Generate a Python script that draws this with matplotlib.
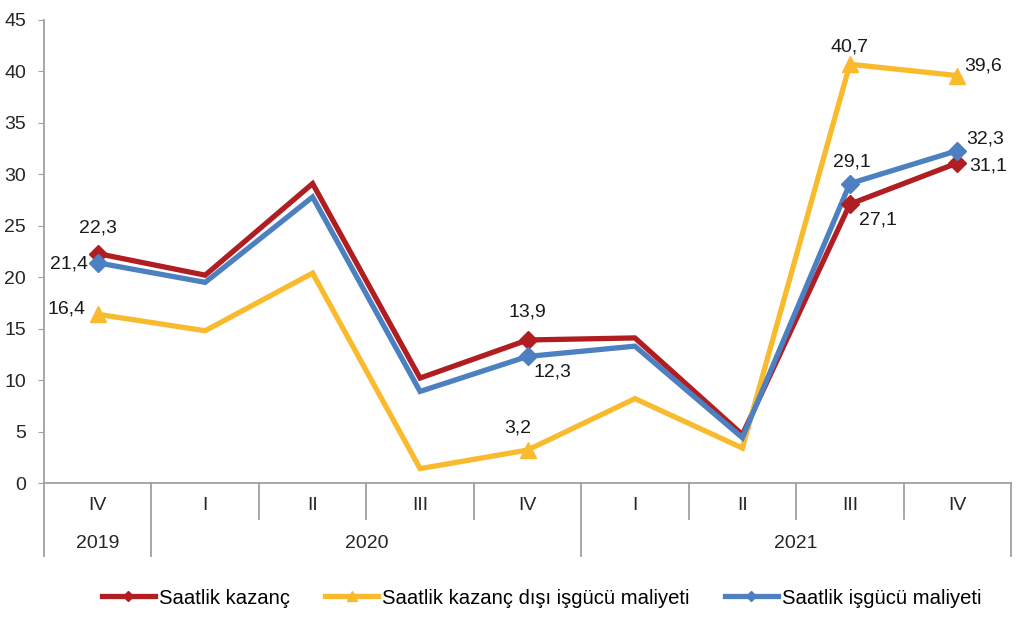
import matplotlib
matplotlib.use("Agg")
import matplotlib.pyplot as plt
from matplotlib.lines import Line2D

plt.rcParams['font.family'] = ['Liberation Sans', 'DejaVu Sans']

quarters = ["IV", "I", "II", "III", "IV", "I", "II", "III", "IV"]
years = ["2019", "2020", "2021"]
year_spans = [(0, 0), (1, 4), (5, 8)]

kazanc = [22.3, 20.2, 29.1, 10.2, 13.9, 14.1, 4.7, 27.1, 31.1]
disi = [16.4, 14.8, 20.4, 1.4, 3.2, 8.2, 3.4, 40.7, 39.6]
isgucu = [21.4, 19.5, 27.8, 8.9, 12.3, 13.3, 4.4, 29.1, 32.3]

names = ["Saatlik kazanç", "Saatlik kazanç dışı işgücü maliyeti", "Saatlik işgücü maliyeti"]
colors = ["#B01E22", "#F9BB2D", "#4C80C0"]
markers = ["D", "^", "D"]
msizes = [9, 12, 9]
marked = [0, 4, 7, 8]

FS = 14

# label offsets (pixels) for the marked points
offsets = [
    {0: (0, 26), 4: (0, 28), 7: (28, -16), 8: (31, -3)},
    {0: (-31, 5), 4: (-10, 22), 7: (0, 17), 8: (26, 10)},
    {0: (-29, -1), 4: (25, -16), 7: (2, 22), 8: (28, 12)},
]

fig = plt.figure(figsize=(10.24, 6.17), dpi=100)
ax = fig.add_axes([44/1024, 1-483/617, (1011-44)/1024, 463/617])

x = list(range(len(quarters)))
series = [kazanc, disi, isgucu]
for s, name, c, m, ms, offs in zip(series, names, colors, markers, msizes, offsets):
    ax.plot(x, s, color=c, lw=3.8, solid_joinstyle='miter', zorder=3)
    ax.plot([x[i] for i in marked], [s[i] for i in marked], ls='none', marker=m,
            ms=ms, color=c, zorder=4)
    for i in marked:
        ax.annotate(f"{s[i]:.1f}".replace(".", ","), (x[i], s[i]),
                    xytext=offs[i], textcoords='offset pixels',
                    ha='center', va='center', fontsize=FS, color='#1a1a1a', zorder=5)

ax.set_xlim(-0.5, len(quarters) - 0.5)
ax.set_ylim(0, 45)
ax.set_yticks(range(0, 46, 5))
ax.tick_params(axis='y', direction='out', length=4, color='#A0A0A0', labelsize=FS,
               labelcolor='#262626', pad=9)
for sp in ['top', 'right']:
    ax.spines[sp].set_visible(False)
for sp in ['left', 'bottom']:
    ax.spines[sp].set_color('#A0A0A0')
    ax.spines[sp].set_linewidth(1.3)
ax.set_xticks([])

tr = ax.get_xaxis_transform()
axis_h = 463.0
q_bottom = -36/axis_h
y_bottom = -73/axis_h
year_bounds = set()
for a, b in year_spans:
    year_bounds.add(a - 0.5)
    year_bounds.add(b + 0.5)
for k in range(len(quarters) + 1):
    bx = k - 0.5
    yb = y_bottom if bx in year_bounds else q_bottom
    ax.plot([bx, bx], [0, yb], transform=tr, color='#A0A0A0', lw=1.3, clip_on=False)
for i, q in enumerate(quarters):
    ax.text(i, -23/axis_h, q, transform=tr, ha='center', va='center', fontsize=FS,
            color='#262626')
for yname, (a, b) in zip(years, year_spans):
    ax.text((a + b) / 2, -61/axis_h, yname, transform=tr, ha='center', va='center',
            fontsize=FS, color='#262626')

handles = [Line2D([0], [0], color=c, lw=3.8, marker=m, ms=ms*0.6)
           for c, m, ms in zip(colors, markers, msizes)]
fig.legend(handles, names, loc='center', bbox_to_anchor=(0.529, 1-598/617), ncol=3,
           frameon=False, fontsize=14.6, handlelength=2.6, handletextpad=0.2,
           columnspacing=1.75)

fig.savefig("out.png", dpi=100)
